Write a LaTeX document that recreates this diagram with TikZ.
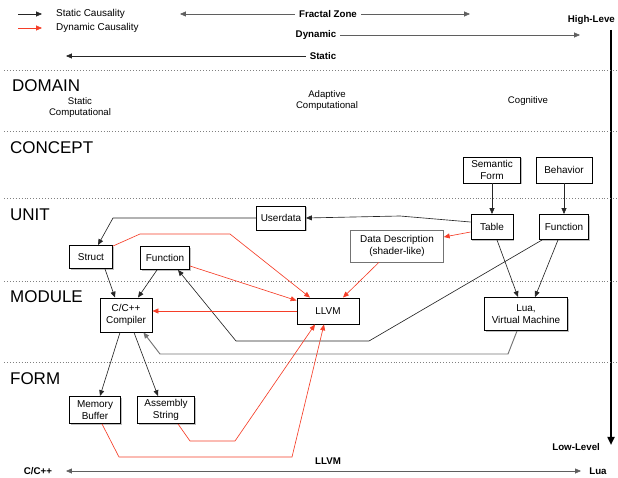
\documentclass[tikz,border=0pt]{standalone}
\usepackage{fontspec}
\setmainfont{Liberation Sans}
\usepackage{xcolor}
\usetikzlibrary{positioning, arrows.meta, shadows, calc}
\definecolor{dynRed}{RGB}{245, 62, 40}
\definecolor{axisGray}{RGB}{95, 95, 95}

\tikzset{
  box/.style={draw, line width=0.8pt, fill=white, align=center, inner sep=1pt,
    font=\fontsize{8.5}{9.6}\selectfont,
    drop shadow={opacity=0.5, shadow xshift=1pt, shadow yshift=-1pt}},
  plainbox/.style={draw=black!55, line width=0.5pt, fill=white, align=center, inner sep=1pt,
    font=\fontsize{8.5}{9.6}\selectfont},
  stat/.style={-{Triangle[length=5pt,width=4.2pt]}, line width=0.55pt, black!85},
  dyn/.style={-{Triangle[length=5pt,width=4.2pt]}, line width=0.55pt, dynRed},
  axisline/.style={line width=0.55pt, axisGray, -{Triangle[length=5pt,width=4.2pt]}},
  layer/.style={dotted, black!50, line width=0.5pt},
  lvl/.style={font=\fontsize{14.5}{16}\selectfont, anchor=west},
  sublbl/.style={font=\fontsize{8.2}{9.4}\selectfont, align=center},
  tag/.style={font=\bfseries\fontsize{8.3}{9.5}\selectfont},
  lgnd/.style={font=\fontsize{8.5}{9.6}\selectfont, anchor=west},
}

\begin{document}
\begin{tikzpicture}[x=0.03cm, y=-0.03cm]
  \useasboundingbox (0,0) rectangle (618,478);

  % legend
  \coordinate (lgS1) at (18,14);
  \coordinate (lgS2) at (42,14);
  \coordinate (lgD1) at (18,28);
  \coordinate (lgD2) at (42,28);
  \draw[stat] (lgS1) -- (lgS2);
  \draw[dyn] (lgD1) -- (lgD2);
  \node[lgnd] (lgStat) at (52,14) {Static Causality};
  \node[lgnd] (lgDyn) at (52,28) {Dynamic Causality};

  % top axes
  \node[tag] (fractal) at (328,14) {Fractal Zone};
  \coordinate (fzL) at (180,14);
  \coordinate (fzR) at (470,14);
  \draw[axisline] (fractal.west) -- (fzL);
  \draw[axisline] (fractal.east) -- (fzR);
  \node[tag] (dynamic) at (316,35) {Dynamic};
  \coordinate (dynR) at (580,35);
  \draw[axisline] (dynamic.east) -- (dynR);
  \node[tag] (static) at (323,56) {Static};
  \coordinate (statL) at (66,56);
  \draw[stat] (static.west) -- (statL);

  % level axis
  \node[tag, anchor=east] (high) at (619,20) {High-Leve};
  \coordinate (hiTop) at (611,30);
  \coordinate (loBot) at (611,445);
  \draw[line width=1.7pt, -{Triangle[length=7pt,width=6pt]}] (hiTop) -- (loBot);
  \node[tag, anchor=east] (low) at (604,447) {Low-Level};

  % bottom axis
  \node[tag] (cpp) at (38,471) {C/C++};
  \node[tag] (lua) at (598,471) {Lua};
  \node[tag] (llvmTag) at (328,461) {LLVM};
  \coordinate (btL) at (66,471);
  \coordinate (btR) at (581,471);
  \draw[line width=0.55pt, axisGray, {Triangle[length=5pt,width=4.2pt]}-{Triangle[length=5pt,width=4.2pt]}] (btL) -- (btR);

  % layers
  \foreach \yy in {70,131,198,281,362}
    \draw[layer] (4,\yy) -- (618,\yy);
  \node[lvl] (domain) at (8,86) {DOMAIN};
  \node[lvl] (concept) at (6,148) {CONCEPT};
  \node[lvl] (unit) at (6,215) {UNIT};
  \node[lvl] (module) at (6,297) {MODULE};
  \node[lvl] (form) at (6,379) {FORM};

  \node[sublbl] (dStatic) at (80,108) {Static\\Computational};
  \node[sublbl] (dAdapt) at (327,101) {Adaptive\\Computational};
  \node[sublbl] (dCogn) at (528,101) {Cognitive};

  % boxes
  \node[box, minimum width=1.71cm, minimum height=0.78cm] (semForm) at (492,170) {Semantic\\Form};
  \node[box, minimum width=1.68cm, minimum height=0.78cm] (behav) at (564,170) {Behavior};
  \node[box, minimum width=1.26cm, minimum height=0.75cm] (table) at (492,227) {Table};
  \node[box, minimum width=1.47cm, minimum height=0.75cm] (funcR) at (564,227) {Function};
  \node[plainbox, minimum width=2.79cm, minimum height=0.96cm] (dataDesc) at (397,246) {Data Description\\(shader-like)};
  \node[box, minimum width=2.49cm, minimum height=0.99cm] (luaVM) at (526,314) {Lua,\\Virtual Machine};
  \node[box, minimum width=1.47cm, minimum height=0.72cm] (userdata) at (281,218) {Userdata};
  \node[box, minimum width=1.29cm, minimum height=0.69cm] (struct) at (91,257) {Struct};
  \node[box, minimum width=1.47cm, minimum height=0.69cm] (funcL) at (165,258) {Function};
  \node[box, minimum width=1.56cm, minimum height=1.02cm] (compiler) at (126,315) {C/C++\\Compiler};
  \node[box, minimum width=1.86cm, minimum height=0.78cm] (llvm) at (328,311) {LLVM};
  \node[box, minimum width=1.53cm, minimum height=0.81cm] (memBuf) at (95,410) {Memory\\Buffer};
  \node[box, minimum width=1.71cm, minimum height=0.81cm] (asmStr) at (166,410) {Assembly\\String};

  % static causality
  \draw[stat] (semForm) -- (table);
  \draw[stat] (behav) -- (funcR);
  \draw[stat] ($(table.west)+(0,-5)$) -- (400,216) -- (userdata.east);
  \draw[stat] (userdata.west) -- (113,218) -- ($(struct.north)+(7,0)$);
  \draw[stat] ($(struct.south)+(14,0)$) -- ($(compiler.north)+(-11,0)$);
  \draw[stat] ($(funcL.south)+(-8,0)$) -- ($(compiler.north)+(12,0)$);
  \draw[stat] ($(compiler.south)+(-6,0)$) -- ($(memBuf.north)+(5,0)$);
  \draw[stat] ($(compiler.south)+(8,0)$) -- ($(asmStr.north)+(-8,0)$);
  \draw[stat] ($(funcR.south)+(-6,0)$) -- ($(luaVM.north)+(9,0)$);
  \draw[stat] ($(table.south)+(5,0)$) -- ($(luaVM.north)+(-8,0)$);
  \draw[stat] ($(funcR.south west)+(3,0)$) -- (369,341) -- (236,341) -- ($(funcL.south)+(13,0)$);
  \draw[stat, black!55, line width=0.8pt] ($(luaVM.south)+(-9,0)$) -- (508,354) -- (160,354) -- ($(compiler.south east)+(-9,0)$);

  % dynamic causality
  \draw[dyn] ($(table.west)+(0,5)$) -- ($(dataDesc.east)+(0,-9)$);
  \draw[dyn] ($(dataDesc.south)+(-18,0)$) -- ($(llvm.north)+(15,0)$);
  \draw[dyn] ($(struct.north east)+(0,1)$) -- (140,234) -- (230,234) -- ($(llvm.north)+(-18,0)$);
  \draw[dyn] ($(funcL.east)+(0,8)$) -- ($(llvm.north west)+(0,3)$);
  \draw[dyn] (llvm.west) -- (llvm.west -| compiler.east);
  \draw[dyn] ($(asmStr.south)+(12,0)$) -- (190,441) -- (235,441) -- ($(llvm.south)+(-13,0)$);
  \draw[dyn] ($(memBuf.south)+(7,0)$) -- (119,457) -- (292,457) -- ($(llvm.south)+(-4,0)$);
\end{tikzpicture}
\end{document}
